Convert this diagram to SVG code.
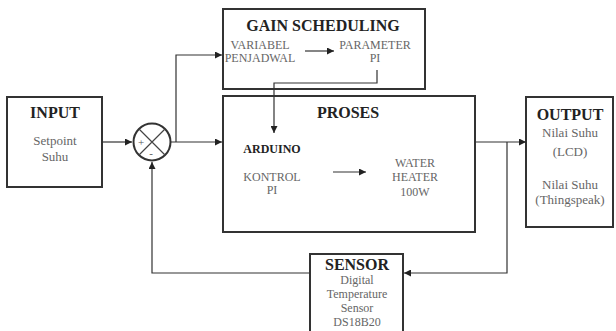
<svg xmlns="http://www.w3.org/2000/svg" width="616" height="331" viewBox="0 0 616 331">
<defs>
<marker id="ah" viewBox="0 0 10 10" refX="10" refY="5" markerWidth="7" markerHeight="7" markerUnits="userSpaceOnUse" orient="auto"><path d="M0,0 L10,5 L0,10 z" fill="#222"/></marker>
</defs>
<style>
text{font-family:"Liberation Serif","DejaVu Serif","Times New Roman",serif}
.box{fill:#fff;stroke:#333;stroke-width:2}
.t{font-weight:bold;font-size:16px;fill:#222;text-anchor:middle}
.b{font-size:12px;fill:#666;text-anchor:middle}
.c{fill:none;stroke:#333;stroke-width:1.2}
</style>
<rect width="616" height="331" fill="#fff"/>
<g id="input">
<rect class="box" x="7" y="97" width="95" height="90"/>
<text class="t" x="55" y="118">INPUT</text>
<text class="b" x="55" y="145" style="font-size:13px">Setpoint</text>
<text class="b" x="55" y="161" style="font-size:13px">Suhu</text>
</g>
<g id="sum">
<circle cx="152" cy="142" r="18.5" fill="#fff" stroke="#333" stroke-width="2"/>
<path d="M139,129 L165,155 M165,129 L139,155" stroke="#444" stroke-width="1.2"/>
<text x="141" y="146" style="font-size:11px;fill:#555;text-anchor:middle">+</text>
<text x="151" y="157" style="font-size:11px;fill:#555;text-anchor:middle">-</text>
</g>
<g id="gain">
<rect class="box" x="223" y="9" width="202" height="80"/>
<text class="t" x="323" y="31">GAIN SCHEDULING</text>
<text class="b" x="260" y="49">VARIABEL</text>
<text class="b" x="260" y="62">PENJADWAL</text>
<text class="b" x="375" y="49">PARAMETER</text>
<text class="b" x="375" y="62">PI</text>
</g>
<g id="proses">
<rect class="box" x="223" y="96" width="252" height="136"/>
<text class="t" x="348" y="118">PROSES</text>
<text class="t" x="272" y="153" style="font-size:12px">ARDUINO</text>
<text class="b" x="272" y="181">KONTROL</text>
<text class="b" x="272" y="194">PI</text>
<text class="b" x="415" y="167">WATER</text>
<text class="b" x="415" y="181">HEATER</text>
<text class="b" x="415" y="196">100W</text>
</g>
<g id="output">
<rect class="box" x="526" y="97" width="87" height="130"/>
<text class="t" x="570" y="120">OUTPUT</text>
<text class="b" x="570" y="137" style="font-size:13px">Nilai Suhu</text>
<text class="b" x="570" y="156" style="font-size:13px">(LCD)</text>
<text class="b" x="570" y="189" style="font-size:13px">Nilai Suhu</text>
<text class="b" x="570" y="204" style="font-size:13px">(Thingspeak)</text>
</g>
<g id="sensor">
<rect class="box" x="310" y="254" width="93" height="82"/>
<text class="t" x="357" y="270">SENSOR</text>
<text class="b" x="357" y="284">Digital</text>
<text class="b" x="357" y="298">Temperature</text>
<text class="b" x="357" y="312">Sensor</text>
<text class="b" x="357" y="326">DS18B20</text>
</g>
<g id="connectors">
<path class="c" d="M102,142 H132" marker-end="url(#ah)"/>
<path class="c" d="M170,142 H222" marker-end="url(#ah)"/>
<path class="c" d="M176,142 V55 H222" marker-end="url(#ah)"/>
<path class="c" d="M305,51 H334" marker-end="url(#ah)"/>
<path class="c" d="M377,70 V83 H274 V133" marker-end="url(#ah)"/>
<path class="c" d="M333,172 H366" marker-end="url(#ah)"/>
<path class="c" d="M475,142 H526" marker-end="url(#ah)"/>
<path class="c" d="M507,142 V273 H404" marker-end="url(#ah)"/>
<path class="c" d="M310,273 H152 V162" marker-end="url(#ah)"/>
</g>
</svg>
